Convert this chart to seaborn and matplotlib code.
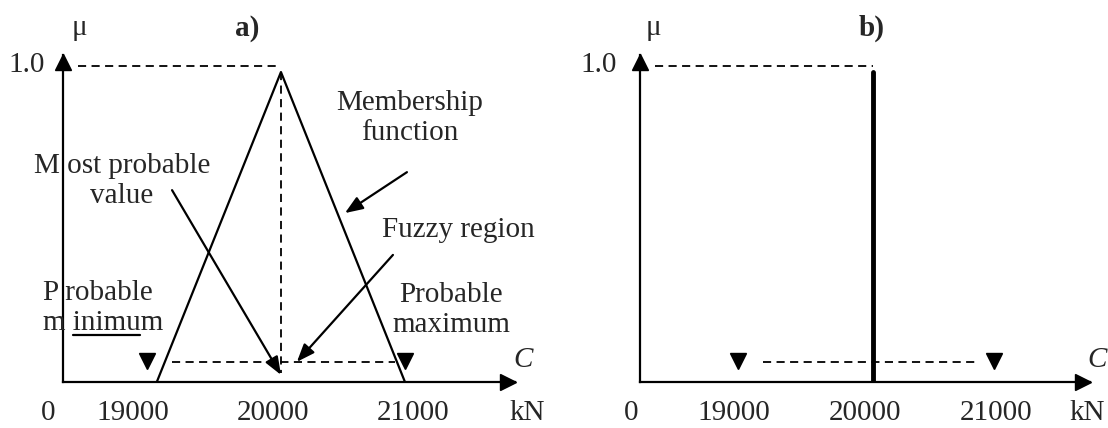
import matplotlib
matplotlib.use("Agg")
import matplotlib.pyplot as plt
import seaborn as sns

# membership function (a) and crisp value (b), C in kN
tri_c = [19170, 20057, 20943]
tri_mu = [0.0, 1.0, 0.0]
crisp_c = [20061, 20061]
crisp_mu = [0.0, 1.0]
prob_min_max_a = [19100, 20943]
prob_min_max_b = [19031, 20985]
fuzzy_band_a = [19279, 20871]
fuzzy_band_b = [19221, 20840]
tick_values = [19000, 20000, 21000]
tick_labels = ["19000", "20000", "21000"]

sns.set_theme(style="white")
plt.rcParams["font.family"] = ["Liberation Serif", "DejaVu Serif"]

FS = 21
fig = plt.figure(figsize=(11.08, 4.28), dpi=100)
W, H = 1108, 428

def make_axes(left_px, right_px, xlim):
    ax = fig.add_axes([left_px / W, 46 / H, (right_px - left_px) / W, 327 / H])
    ax.set_xlim(*xlim)
    ax.set_ylim(0, 1.055)
    ax.set_xticks([])
    ax.set_yticks([])
    ax.patch.set_alpha(0)
    for s in ["top", "right"]:
        ax.spines[s].set_visible(False)
    for s in ["left", "bottom"]:
        ax.spines[s].set_color("black")
        ax.spines[s].set_linewidth(1.6)
    # arrow heads on the axes
    ax.plot([xlim[1] - 7 / 0.135], [0], marker=">", ms=11, color="black",
            clip_on=False, zorder=5)
    ax.plot([xlim[0]], [1.055 - 7 / 310], marker="^", ms=11, color="black",
            clip_on=False, zorder=5)
    return ax

def dashed(ax, x, y):
    ax.plot(x, y, color="black", lw=1.3, ls=(0, (4.5, 3)), clip_on=False)

def labels(ax, zero_x, kn_x, one_x, mu_x, tag_x, tag, c_x):
    y = -0.1
    ax.text(zero_x, y, "0", ha="center", va="center", fontsize=FS, clip_on=False)
    for v, l in zip(tick_values, tick_labels):
        ax.text(v, y, l, ha="center", va="center", fontsize=FS, clip_on=False)
    ax.text(kn_x, y, "kN", ha="center", va="center", fontsize=FS, clip_on=False)
    ax.text(one_x, 1.023, "1.0", ha="right", va="center", fontsize=FS, clip_on=False)
    ax.text(mu_x, 1.142, "μ", ha="center", va="center", fontsize=FS, clip_on=False)
    ax.text(tag_x, 1.142, tag, ha="center", va="center", fontsize=FS,
            fontweight="bold", clip_on=False)
    ax.text(c_x, 0.07, "C", ha="center", va="center", fontsize=FS,
            style="italic", clip_on=False)

# ---------------- panel a ----------------
ax1 = make_axes(63, 515, (18500, 21729))
sns.lineplot(x=tri_c, y=tri_mu, ax=ax1, color="black", lw=1.6, sort=False,
             estimator=None)
dashed(ax1, [18607, 20040], [1.019, 1.019])
dashed(ax1, [20057, 20057], [1.0, 0.03])
dashed(ax1, fuzzy_band_a, [0.065, 0.065])
ax1.plot(prob_min_max_a, [0.068, 0.068], ls="none", marker="v", ms=12,
         color="black", clip_on=False)
labels(ax1, 18393, 21814, 18371, 18614, 19814, "a)", 21786)

arrow = dict(arrowstyle="-|>,head_length=0.9,head_width=0.35", color="black",
             lw=1.6, shrinkA=0, shrinkB=0)
ax1.text(18921, 0.648, "M ost probable\nvalue", ha="center", va="center",
         fontsize=FS, linespacing=1.2)
ax1.annotate("", xy=(20057, 0.023), xytext=(19279, 0.619), arrowprops=arrow)
ax1.text(20979, 0.852, "Membership\nfunction", ha="center", va="center",
         fontsize=FS, linespacing=1.2)
ax1.annotate("", xy=(20514, 0.545), xytext=(20957, 0.677), arrowprops=arrow)
ax1.text(21321, 0.49, "Fuzzy region", ha="center", va="center", fontsize=FS,
         clip_on=False)
ax1.annotate("", xy=(20171, 0.065), xytext=(20857, 0.41), arrowprops=arrow)
ax1.text(21271, 0.232, "Probable\nmaximum", ha="center", va="center",
         fontsize=FS, linespacing=1.2, clip_on=False)
ax1.text(18357, 0.239, "P robable\nm inimum", ha="left", va="center",
         fontsize=FS, linespacing=1.2, clip_on=False)
ax1.plot([18571, 19050], [0.152, 0.152], color="black", lw=1.6, clip_on=False)

# ---------------- panel b ----------------
ax2 = make_axes(640, 1090, (18282, 21718))
sns.lineplot(x=crisp_c, y=crisp_mu, ax=ax2, color="black", lw=3.5, sort=False,
             estimator=None)
dashed(ax2, [18397, 20061], [1.019, 1.019])
dashed(ax2, fuzzy_band_b, [0.065, 0.065])
ax2.plot(prob_min_max_b, [0.068, 0.068], ls="none", marker="v", ms=12,
         color="black", clip_on=False)
labels(ax2, 18214, 21695, 18107, 18382, 20053, "b)", 21771)

fig.savefig("out.png", dpi=100, facecolor="white")
